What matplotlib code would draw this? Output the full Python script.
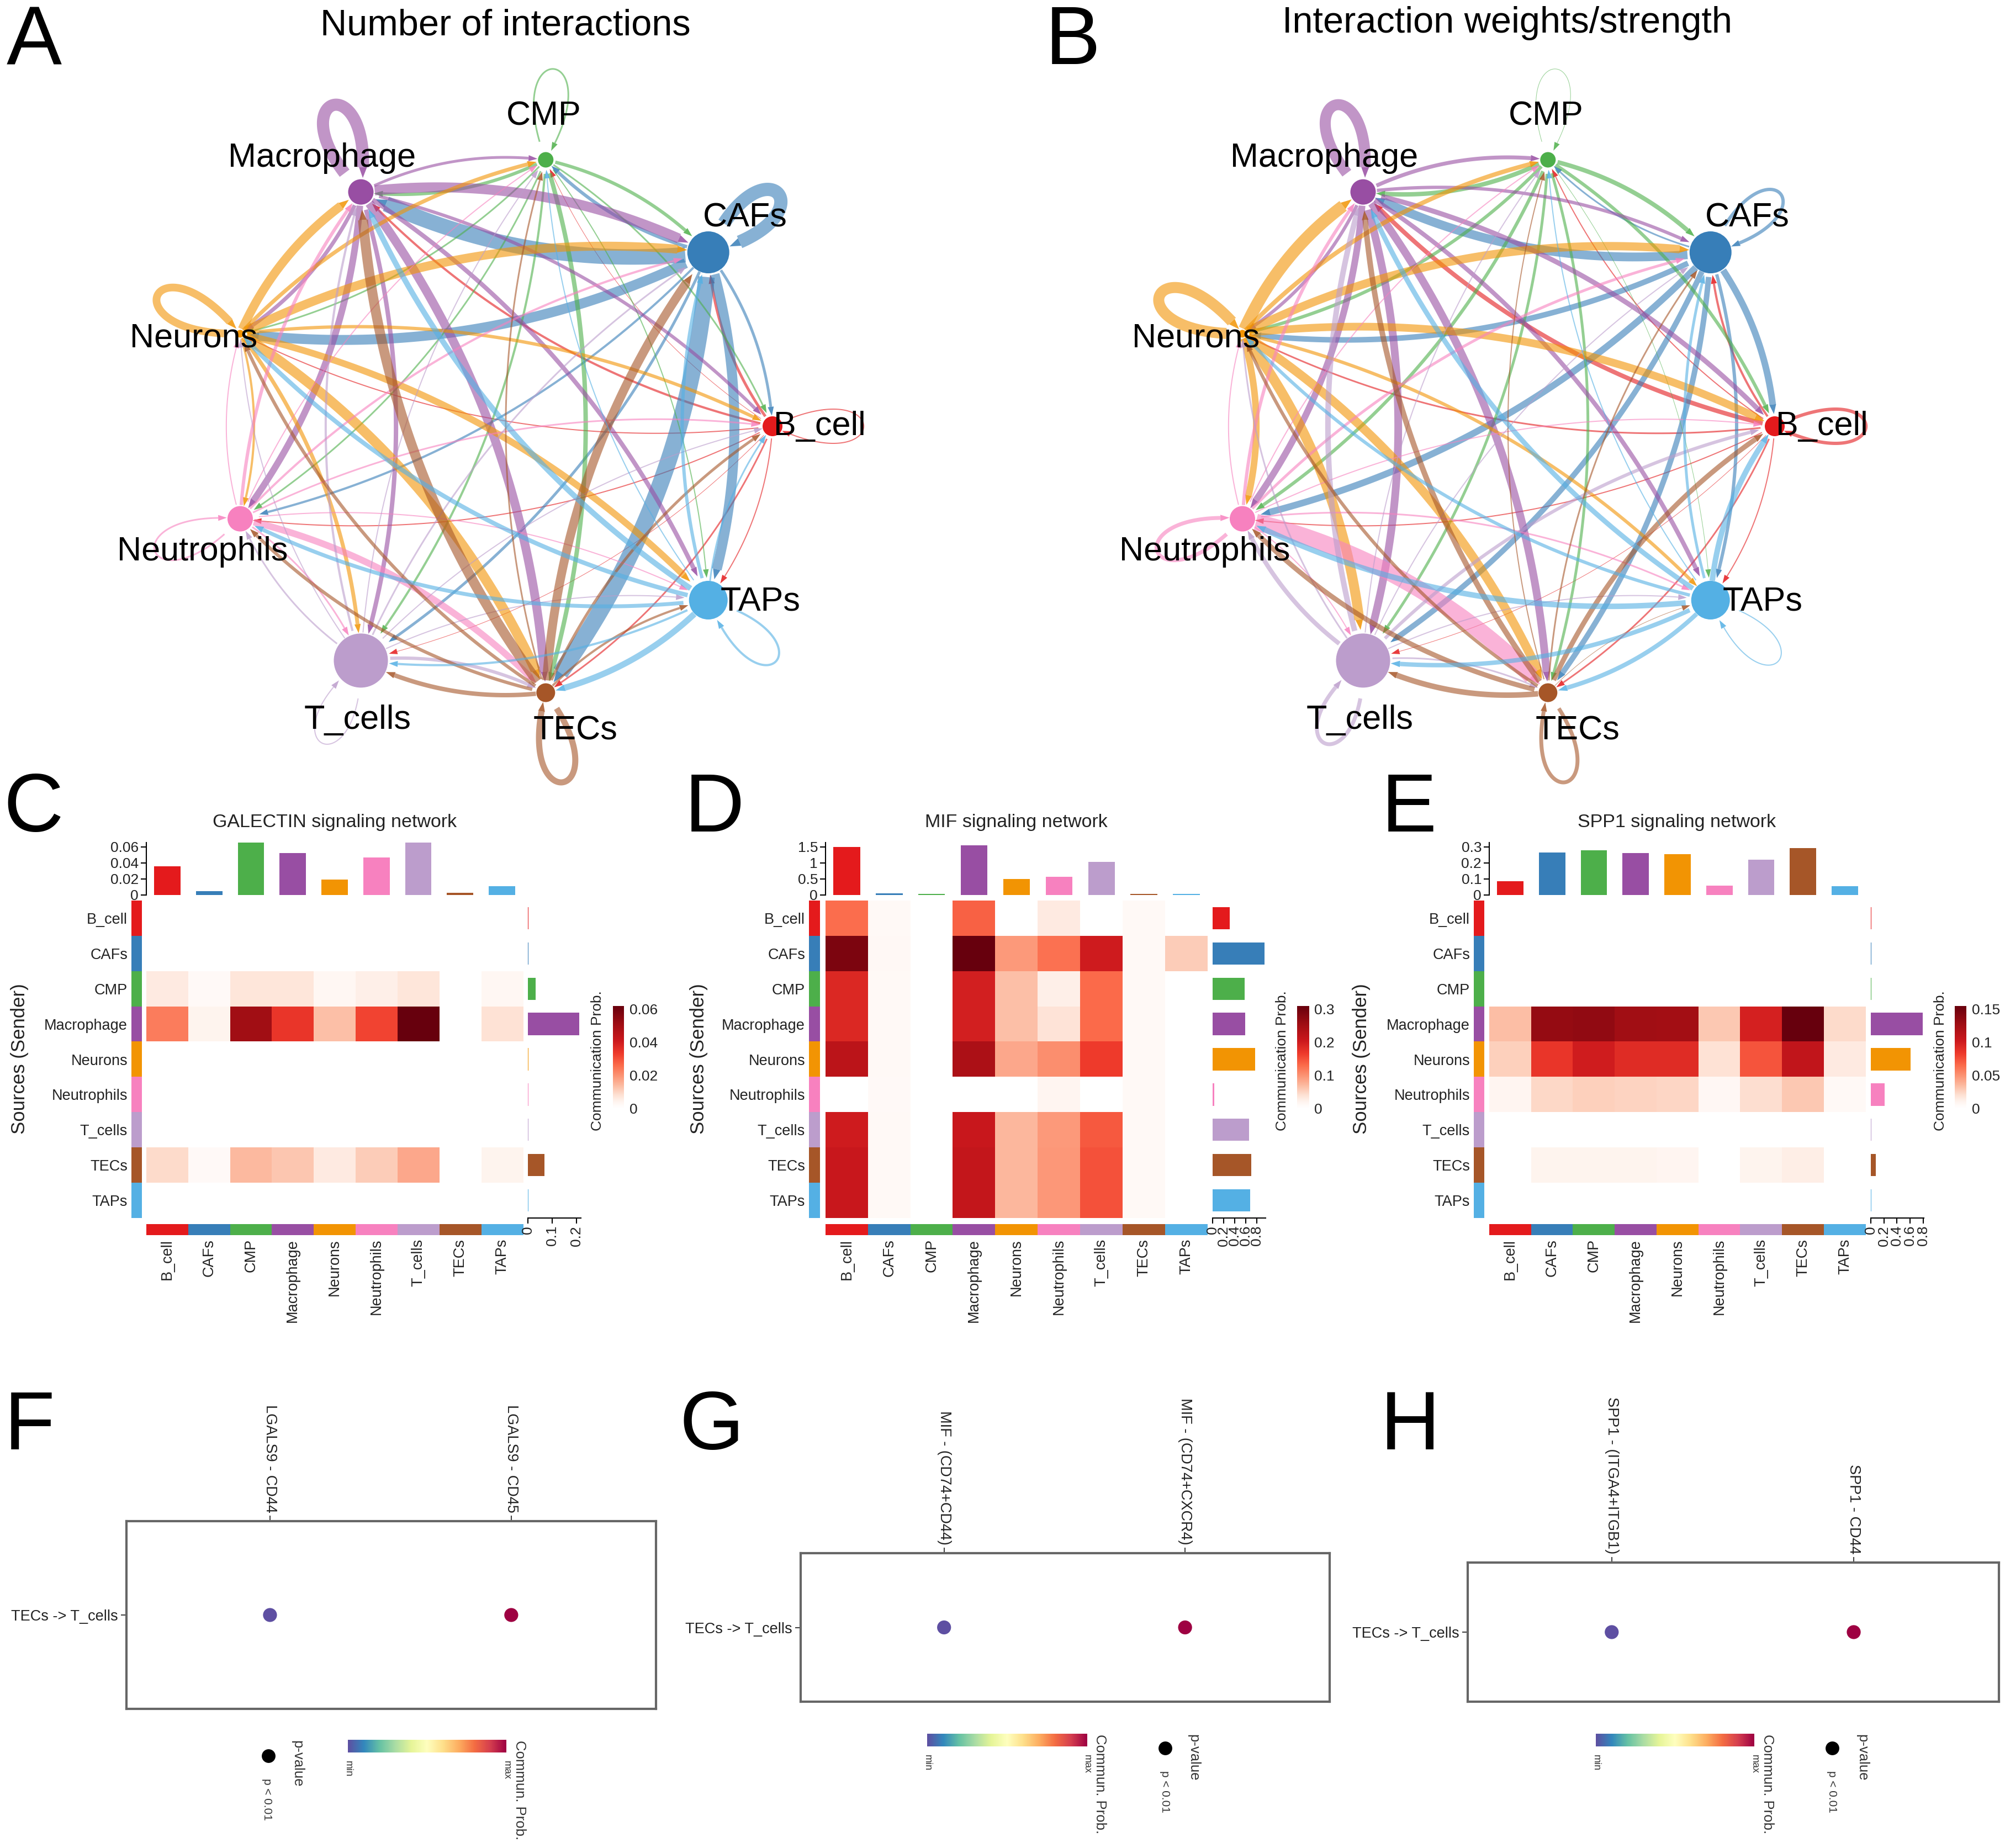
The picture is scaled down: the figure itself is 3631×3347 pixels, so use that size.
import numpy as np
import matplotlib
matplotlib.use("Agg")
import matplotlib.pyplot as plt
from matplotlib.colors import LinearSegmentedColormap, ListedColormap, Normalize
from matplotlib.patches import Circle

plt.rcParams['font.family'] = ['Liberation Sans', 'DejaVu Sans']

W, H = 3631, 3347

# cell groups and their colours
groups = ['B_cell', 'CAFs', 'CMP', 'Macrophage', 'Neurons', 'Neutrophils', 'T_cells', 'TECs', 'TAPs']
group_colors = ['#E41A1C', '#377EB8', '#4DAF4A', '#984EA3', '#F29403', '#F781BF', '#BC9DCC', '#A65628', '#54B0E4']
node_radius = [18, 38, 14, 23, 7, 23, 49, 17, 35]

count_widths = [
    [2, 5, 1, 4, 2, 2, 1, 3, 2],
    [5, 24, 6, 28, 18, 4, 5, 30, 18],
    [3, 6, 3, 6, 3, 3, 4, 8, 2],
    [6, 18, 5, 22, 7, 12, 8, 16, 8],
    [6, 16, 7, 16, 14, 4, 7, 18, 12],
    [3, 4, 2, 6, 2, 3, 3, 12, 2],
    [2, 3, 2, 4, 2, 3, 2, 6, 2],
    [5, 16, 3, 18, 6, 6, 8, 11, 4],
    [3, 6, 2, 10, 8, 7, 4, 11, 4],
]
strength_widths = [
    [6, 4, 2, 8, 3, 2, 1, 3, 2],
    [12, 6, 3, 16, 10, 12, 10, 10, 6],
    [6, 8, 1, 8, 6, 6, 5, 5, 1],
    [9, 6, 7, 20, 6, 12, 14, 14, 8],
    [14, 15, 8, 22, 20, 12, 18, 16, 6],
    [2, 5, 2, 6, 2, 7, 2, 30, 3],
    [6, 2, 2, 10, 3, 8, 7, 3, 2],
    [9, 3, 2, 10, 6, 9, 10, 7, 1],
    [10, 5, 2, 9, 6, 10, 8, 8, 2],
]

# heatmap values, panels C, D, E
galectin_prob = [
    [0, 0, 0, 0, 0, 0, 0, 0, 0],
    [0, 0, 0, 0, 0, 0, 0, 0, 0],
    [.006, .002, .007, .007, .003, .005, .007, 0, .003],
    [.023, .004, .050, .034, .013, .0315, .062, 0, .0075],
    [0, 0, 0, 0, 0, 0, 0, 0, 0],
    [0, 0, 0, 0, 0, 0, 0, 0, 0],
    [0, 0, 0, 0, 0, 0, 0, 0, 0],
    [.0087, .002, .014, .012, .006, .011, .0165, 0, .004],
    [0, 0, 0, 0, 0, 0, 0, 0, 0],
]
galectin_top = [.036, .005, .070, .052, .019, .047, .076, .003, .011]
galectin_right = [.003, .003, .032, .212, .003, .003, .003, .068, .003]

mif_prob = [
    [.127, .012, 0, .136, 0, .030, 0, .012, 0],
    [.287, .013, 0, .309, .093, .124, .200, .012, .055],
    [.185, .012, 0, .195, .065, .025, .130, .012, 0],
    [.185, .012, 0, .195, .065, .037, .130, .012, 0],
    [.222, .012, 0, .238, .083, .102, .165, .012, 0],
    [0, .010, 0, 0, 0, .018, 0, .012, 0],
    [.200, .011, 0, .207, .071, .093, .142, .012, 0],
    [.207, .011, 0, .212, .071, .095, .148, .012, 0],
    [.207, .011, 0, .212, .071, .095, .148, .012, 0],
]
mif_top = [1.5, .05, .03, 1.55, .5, .57, 1.03, .04, .04]
mif_right = [.31, .94, .58, .59, .77, .03, .66, .70, .68]

spp1_prob = [
    [0, 0, 0, 0, 0, 0, 0, 0, 0],
    [0, 0, 0, 0, 0, 0, 0, 0, 0],
    [0, 0, 0, 0, 0, 0, 0, 0, 0],
    [.033, .131, .133, .125, .124, .029, .097, .155, .022],
    [.026, .085, .099, .090, .090, .019, .073, .107, .015],
    [.009, .023, .026, .025, .024, .007, .021, .029, .006],
    [0, 0, 0, 0, 0, 0, 0, 0, 0],
    [0, .010, .010, .010, .009, 0, .010, .013, 0],
    [0, 0, 0, 0, 0, 0, 0, 0, 0],
]
spp1_top = [.085, .265, .28, .26, .255, .06, .22, .292, .055]
spp1_right = [.006, .006, .006, .79, .61, .21, .006, .08, .006]

# dot plots, panels F, G, H
galectin_pairs = ['LGALS9 - CD44', 'LGALS9 - CD45']
mif_pairs = ['MIF - (CD74+CD44)', 'MIF - (CD74+CXCR4)']
spp1_pairs = ['SPP1 - (ITGA4+ITGB1)', 'SPP1 - CD44']
dot_colors = ['#5E4FA2', '#9E0142']

reds = LinearSegmentedColormap.from_list('reds0', [(0, '#FFFFFF'), (.06, '#FFF5F0'), (.13, '#FEE0D2'), (.22, '#FCBBA1'),
                                                   (.32, '#FC9272'), (.42, '#FB6A4A'), (.53, '#EF3B2C'), (.66, '#CB181D'),
                                                   (.80, '#A50F15'), (1, '#67000D')])
group_cmap = ListedColormap(group_colors)

fig = plt.figure(figsize=(W / 100, H / 100), dpi=100, facecolor='white')


def ax_px(x0, y0, x1, y1):
    # axes from pixel box, y counted from top of the image
    return fig.add_axes([x0 / W, 1 - y1 / H, (x1 - x0) / W, (y1 - y0) / H])


page = ax_px(0, 0, W, H)
page.set_xlim(0, W)
page.set_ylim(H, 0)
page.axis('off')


def stroke(pts, start, stop, r0, r1, width, color):
    # curve cut at the node edges, with a small filled head at its end
    head = 15 + width * 0.2
    keep = (np.hypot(*(pts - start).T) > r0) & (np.hypot(*(pts - stop).T) > r1 + head)
    pts = pts[keep]
    page.plot(pts[:, 0], pts[:, 1], color=color, lw=width * 0.72, alpha=0.6, solid_capstyle='butt', zorder=2)
    u = pts[-1] - pts[-2]
    u = u / np.hypot(*u)
    n = np.array([-u[1], u[0]])
    half = 5 + width * 0.1
    tri = np.array([pts[-1] + n * half, pts[-1] - n * half, pts[-1] + u * head])
    page.fill(tri[:, 0], tri[:, 1], color=color, alpha=0.85, lw=0, zorder=2)


def draw_edge(p0, p1, r0, r1, width, color):
    p0, p1 = np.array(p0, float), np.array(p1, float)
    d = p1 - p0
    ctrl = (p0 + p1) / 2 + 0.15 * np.array([d[1], -d[0]])
    t = np.linspace(0, 1, 80)[:, None]
    pts = (1 - t) ** 2 * p0 + 2 * t * (1 - t) * ctrl + t ** 2 * p1
    stroke(pts, p0, p1, r0, r1, width, color)


def draw_loop(p, r, angle, width, color):
    p = np.array(p, float)
    a = np.radians(angle)
    L, w = 245, np.radians(26)
    c1 = p + L * np.array([np.cos(a + w), -np.sin(a + w)])
    c2 = p + L * np.array([np.cos(a - w), -np.sin(a - w)])
    t = np.linspace(0, 1, 120)[:, None]
    pts = (1 - t) ** 3 * p + 3 * t * (1 - t) ** 2 * c1 + 3 * t ** 2 * (1 - t) * c2 + t ** 3 * p
    stroke(pts, p, p, r, r, width, color)


loop_angles = [0, 40, 85, 108, 155, 201, 245, 281, -42]
label_offsets = [(85, 0), (67, -62), (-4, -78), (-70, -61), (-84, 9), (-68, 60), (-6, 108), (54, 69), (94, 3)]


def network(cx, cy, widths, title, title_x, title_y):
    angles = np.radians(np.arange(9) * 40)
    pos = [(cx + 497 * np.cos(a), cy - 490 * np.sin(a)) for a in angles]
    for i in range(9):
        for j in range(9):
            if i == j:
                draw_loop(pos[i], node_radius[i], loop_angles[i], widths[i][i], group_colors[i])
            else:
                draw_edge(pos[i], pos[j], node_radius[i], node_radius[j], widths[i][j], group_colors[i])
    for i in range(9):
        page.add_patch(Circle(pos[i], node_radius[i], fc=group_colors[i], ec='none', zorder=3))
        page.text(pos[i][0] + label_offsets[i][0], pos[i][1] + label_offsets[i][1], groups[i],
                  fontsize=44, ha='center', va='center', zorder=4)
    page.text(title_x, title_y, title, fontsize=48, ha='center', va='center')


network(902, 772, count_widths, 'Number of interactions', 915, 46)
network(2717, 772, strength_widths, 'Interaction weights/strength', 2730, 42)


def heatmap(x0, x1, strip_x0, strip_x1, bar_x1, cb_x0, cb_x1, values, top_vals, right_vals, top_ticks, top_labels,
            right_ticks, right_labels, right_max, cb_ticks, cb_labels, title, title_x, sender_x, cb_label_x, top_y=1526):
    y0, y1 = 1631, 2206
    values = np.array(values)
    vmax = cb_ticks[-1] * 1.03

    ax = ax_px(x0, y0, x1, y1)
    ax.imshow(values, cmap=reds, norm=Normalize(0, vmax), aspect='auto', interpolation='nearest')
    ax.axis('off')

    # sender colour strip with row labels
    ax_r = ax_px(strip_x0, y0, strip_x1, y1)
    ax_r.imshow(np.arange(9)[:, None], cmap=group_cmap, aspect='auto', interpolation='nearest')
    ax_r.set_xticks([])
    ax_r.set_yticks(range(9), groups, fontsize=19.5, color='#222222')
    ax_r.tick_params(length=0, pad=5)
    for s in ax_r.spines.values():
        s.set_visible(False)

    # receiver colour strip
    ax_c = ax_px(x0, y1 + 11, x1, y1 + 31)
    ax_c.imshow(np.arange(9)[None, :], cmap=group_cmap, aspect='auto', interpolation='nearest')
    ax_c.set_yticks([])
    ax_c.set_xticks(range(9), groups, fontsize=19.5, rotation=90, color='#222222')
    ax_c.tick_params(length=0, pad=5)
    for s in ax_c.spines.values():
        s.set_visible(False)

    # incoming signal bars on top
    ax_t = ax_px(x0, top_y, x1, 1621)
    ax_t.bar(range(9), top_vals, width=0.63, color=group_colors)
    ax_t.set_xlim(-0.5, 8.5)
    ax_t.set_ylim(0, top_ticks[-1] * 1.09)
    ax_t.set_xticks([])
    ax_t.set_yticks(top_ticks, top_labels, fontsize=19, color='#222222')
    ax_t.tick_params(length=7, width=1.5, pad=3)
    for s in ['top', 'right', 'bottom']:
        ax_t.spines[s].set_visible(False)
    ax_t.spines['left'].set_linewidth(1.5)

    # outgoing signal bars on the right
    ax_b = ax_px(x1 + 9, y0, bar_x1, y1)
    ax_b.barh(range(9), right_vals, height=0.63, color=group_colors)
    ax_b.set_ylim(8.5, -0.5)
    ax_b.set_xlim(0, right_max)
    ax_b.set_yticks([])
    ax_b.set_xticks(right_ticks, right_labels, fontsize=19, rotation=90, color='#222222')
    ax_b.tick_params(length=7, width=1.5, pad=3)
    for s in ['top', 'right', 'left']:
        ax_b.spines[s].set_visible(False)
    ax_b.spines['bottom'].set_linewidth(1.5)

    # colour key
    ax_k = ax_px(cb_x0, 1822, cb_x1, 2017)
    grad = np.linspace(vmax, 0, 256)[:, None]
    ax_k.imshow(grad, cmap=reds, norm=Normalize(0, vmax), aspect='auto', extent=[0, 1, 0, vmax])
    ax_k.set_ylim(-0.054 * cb_ticks[-1], vmax)
    ax_k.set_xticks([])
    ax_k.yaxis.tick_right()
    ax_k.set_yticks(cb_ticks, cb_labels, fontsize=19, color='#222222')
    ax_k.tick_params(length=0, pad=7)
    for s in ax_k.spines.values():
        s.set_visible(False)

    page.text(title_x, 1489, title, fontsize=24.5, ha='center', va='center', color='#222222')
    page.text(sender_x, 1918, 'Sources (Sender)', fontsize=25, rotation=90, ha='center', va='center', color='#222222')
    page.text(cb_label_x, 1921, 'Communication Prob.', fontsize=19, rotation=90, ha='center', va='center', color='#222222')


heatmap(265, 947, 238, 257, 1052, 1110, 1130, galectin_prob, galectin_top, galectin_right,
        [0, .02, .04, .06], ['0', '0.02', '0.04', '0.06'], [0, .1, .2], ['0', '0.1', '0.2'], 0.218,
        [0, .02, .04, .06], ['0', '0.02', '0.04', '0.06'], 'GALECTIN signaling network', 606, 36, 1082)
heatmap(1495, 2187, 1465, 1485, 2292, 2349, 2370, mif_prob, mif_top, mif_right,
        [0, .5, 1, 1.5], ['0', '0.5', '1', '1.5'], [0, .2, .4, .6, .8], ['0', '0.2', '0.4', '0.6', '0.8'], 0.96,
        [0, .1, .2, .3], ['0', '0.1', '0.2', '0.3'], 'MIF signaling network', 1840, 1265, 2322)
heatmap(2697, 3379, 2669, 2688, 3484, 3540, 3561, spp1_prob, spp1_top, spp1_right,
        [0, .1, .2, .3], ['0', '0.1', '0.2', '0.3'], [0, .2, .4, .6, .8], ['0', '0.2', '0.4', '0.6', '0.8'], 0.81,
        [0, .05, .1, .15], ['0', '0.05', '0.1', '0.15'], 'SPP1 signaling network', 3037, 2466, 3514)


def dotplot(x0, x1, y0, y1, pairs, cb_x0, cb_x1, cb_y0, key_x, val_x, note_x, key_y):
    ax = ax_px(x0, y0, x1, y1)
    ax.scatter([0, 1], [0, 0], c=dot_colors, s=330, linewidths=0, zorder=3)
    ax.set_xlim(-0.595, 1.6)
    ax.set_ylim(-1, 1)
    ax.xaxis.tick_top()
    ax.set_xticks([0, 1], pairs, rotation=270, fontsize=19.5, color='#222222')
    ax.set_yticks([0], ['TECs -> T_cells'], fontsize=19.5, color='#222222')
    ax.tick_params(length=7, width=1.5, pad=4, color='#444444')
    for s in ax.spines.values():
        s.set_linewidth(3)
        s.set_color('#666666')

    ax_g = ax_px(cb_x0, cb_y0, cb_x1, cb_y0 + 23)
    ax_g.imshow(np.linspace(0, 1, 256)[None, :], cmap='Spectral_r', aspect='auto')
    ax_g.axis('off')
    small = dict(fontsize=13, rotation=270, ha='center', va='top', color='#333333')
    page.text(cb_x0, cb_y0 + 38, 'min', **small)
    page.text(cb_x1, cb_y0 + 38, 'max', **small)
    page.text(cb_x1 + 24, cb_y0 + 1, 'Commun. Prob.', fontsize=18.5, rotation=270, ha='center', va='top', color='#333333')
    page.scatter([key_x], [key_y], c='black', s=320, linewidths=0)
    page.text(val_x, cb_y0 + 1, 'p-value', fontsize=18.5, rotation=270, ha='center', va='top', color='#333333')
    page.text(note_x, key_y + 41, 'p < 0.01', fontsize=15, rotation=270, ha='center', va='top', color='#333333')


dotplot(229, 1188, 2755, 3095, galectin_pairs, 630, 917, 3151, 486, 538, 484, 3180)
dotplot(1450, 2408, 2813, 3082, mif_pairs, 1679, 1968, 3140, 2110, 2161, 2110, 3166)
dotplot(2658, 3620, 2830, 3082, spp1_pairs, 2890, 3177, 3140, 3318, 3372, 3318, 3166)

# panel letters
letters = ['A', 'B', 'C', 'D', 'E', 'F', 'G', 'H']
letter_x = [12, 1893, 6, 1240, 2502, 8, 1230, 2500]
letter_y = [116, 116, 1506, 1506, 1506, 2625, 2625, 2625]
for s, lx, ly in zip(letters, letter_x, letter_y):
    page.text(lx, ly, s, fontsize=108, ha='left', va='baseline', color='black')

fig.savefig('out.png', dpi=100)
